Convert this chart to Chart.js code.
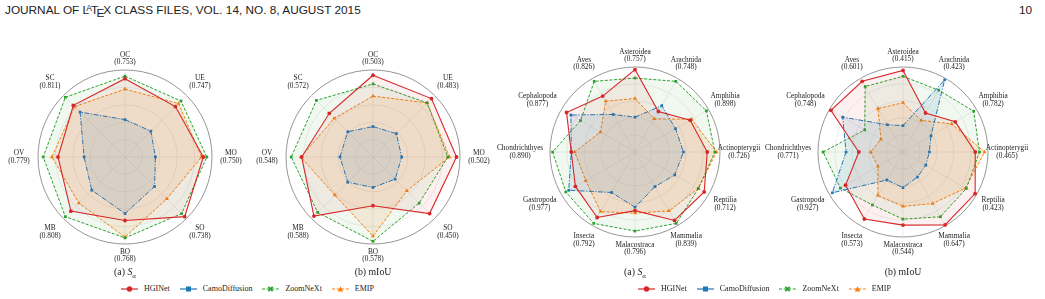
<!doctype html>
<html>
<head>
<meta charset="utf-8">
<title>radar comparison</title>
<script src="https://cdn.jsdelivr.net/npm/chart.js@4.4.0/dist/chart.umd.min.js"></script>
<style>
  body { margin: 0; width: 1045px; height: 299px; background: #fff; position: relative; overflow: hidden;
         font-family: "Liberation Serif", "Times New Roman", serif; color: #222; }
  .hdr { position: absolute; top: 3px; font-family: "Liberation Sans", Arial, sans-serif; font-size: 11.8px; color: #222; white-space: nowrap; }
  .hdr .a { font-size: 0.72em; vertical-align: 0.3em; margin-left: -0.33em; margin-right: -0.12em; }
  .hdr .e { position: relative; top: 0.22em; margin-left: -0.14em; margin-right: -0.1em; }
  canvas { position: absolute; }
  .cap { position: absolute; top: 266px; width: 160px; text-align: center; font-size: 9.8px; }
  .legend { position: absolute; top: 284px; display: flex; align-items: center; font-size: 8px; white-space: nowrap; }
  .legend .item { display: flex; align-items: center; margin-right: 10px; }
  .legend svg { margin-right: 6px; }
</style>
</head>
<body>
<div class="hdr" style="left:5px">JOURNAL OF L<span class="a">A</span>T<span class="e">E</span>X CLASS FILES, VOL. 14, NO. 8, AUGUST 2015</div>
<div class="hdr" style="left:1019px">10</div>

<canvas id="c1"></canvas>
<canvas id="c2"></canvas>
<canvas id="c3"></canvas>
<canvas id="c4"></canvas>

<div class="cap" style="left:45px">(a) <i>S</i><sub style="font-size:0.7em">&alpha;</sub></div>
<div class="cap" style="left:293px">(b) mIoU</div>
<div class="cap" style="left:555px">(a) <i>S</i><sub style="font-size:0.7em">&alpha;</sub></div>
<div class="cap" style="left:823px">(b) mIoU</div>

<div class="legend" id="leg1" style="left:121px"></div>
<div class="legend" id="leg2" style="left:638px"></div>

<script>
// attribute axes (left pair)
var attrAxes = ['OC', 'UE', 'MO', 'SO', 'BO', 'MB', 'OV', 'SC'];
var attrSalpha = [0.753, 0.747, 0.750, 0.738, 0.768, 0.808, 0.779, 0.811];
var attrMiou = [0.503, 0.483, 0.502, 0.450, 0.578, 0.588, 0.548, 0.572];

// class axes (right pair)
var classAxes = ['Asteroidea', 'Arachnida', 'Amphibia', 'Actinopterygii', 'Reptilia', 'Mammalia',
                 'Malacostraca', 'Insecta', 'Gastropoda', 'Chondrichthyes', 'Cephalopoda', 'Aves'];
var classSalpha = [0.757, 0.748, 0.898, 0.726, 0.712, 0.839, 0.796, 0.792, 0.977, 0.890, 0.877, 0.826];
var classMiou = [0.415, 0.423, 0.782, 0.465, 0.423, 0.647, 0.544, 0.573, 0.927, 0.771, 0.748, 0.601];

// plotted radii (normalised per axis)
var hginetAttrSa = [0.90, 0.82, 0.90, 0.97, 0.73, 0.88, 0.77, 0.84];
var camoAttrSa   = [0.43, 0.42, 0.35, 0.48, 0.65, 0.54, 0.47, 0.73];
var zoomAttrSa   = [0.93, 0.91, 0.94, 0.92, 0.93, 0.97, 0.94, 0.97];
var emipAttrSa   = [0.78, 0.87, 0.88, 0.68, 0.92, 0.75, 0.84, 0.82];

var hginetAttrMiou = [0.94, 0.95, 0.96, 0.92, 0.56, 0.96, 0.82, 0.71];
var camoAttrMiou   = [0.35, 0.38, 0.33, 0.36, 0.35, 0.41, 0.38, 0.41];
var zoomAttrMiou   = [0.84, 0.88, 0.86, 0.75, 0.97, 0.90, 0.94, 0.92];
var emipAttrMiou   = [0.70, 0.88, 0.88, 0.55, 0.91, 0.62, 0.83, 0.63];

var hginetClassSa = [0.97, 0.55, 0.75, 0.85, 0.94, 0.93, 0.69, 0.89, 0.81, 0.75, 0.93, 0.76];
var camoClassSa   = [0.41, 0.63, 0.55, 0.57, 0.54, 0.47, 0.65, 0.55, 0.90, 0.75, 0.87, 0.51];
var zoomClassSa   = [0.87, 0.96, 0.97, 0.94, 0.86, 0.97, 0.93, 0.97, 0.94, 0.97, 0.74, 0.96];
var emipClassSa   = [0.63, 0.45, 0.77, 0.96, 0.86, 0.80, 0.72, 0.81, 0.67, 0.71, 0.47, 0.69];

var hginetClassMiou = [0.96, 0.53, 0.71, 0.85, 0.98, 0.99, 0.86, 0.91, 0.78, 0.52, 0.98, 0.96];
var camoClassMiou   = [0.31, 0.98, 0.38, 0.31, 0.31, 0.34, 0.42, 0.38, 0.96, 0.67, 0.82, 0.37];
var zoomClassMiou   = [0.89, 0.84, 0.96, 0.90, 0.86, 0.88, 0.79, 0.72, 0.85, 0.94, 0.52, 0.89];
var emipClassMiou   = [0.58, 0.43, 0.66, 0.96, 0.85, 0.70, 0.64, 0.59, 0.34, 0.38, 0.30, 0.59];

var methods = [
  { name: 'HGINet', color: '#d62728', fill: 'rgba(214,39,40,0.07)', dash: [], point: 'circle', width: 1.1 },
  { name: 'CamoDiffusion', color: '#1f77b4', fill: 'rgba(31,119,180,0.10)', dash: [5, 1.5, 1.2, 1.5], point: 'rect', width: 1 },
  { name: 'ZoomNeXt', color: '#2ca02c', fill: 'rgba(44,160,44,0.07)', dash: [3, 1.6], point: 'rect', width: 1 },
  { name: 'EMIP', color: '#ff7f0e', fill: 'rgba(255,127,14,0.12)', dash: [3, 1.6], point: 'triangle', width: 1 }
];

function axisLabels(axes, scores) {
  return {
    id: 'axisLabels',
    afterDraw: function(chart) {
      var s = chart.scales.r, ctx = chart.ctx;
      ctx.save();
      ctx.font = '7.3px "Liberation Serif"';
      ctx.fillStyle = '#222';
      ctx.textAlign = 'center';
      ctx.textBaseline = 'middle';
      axes.forEach(function(name, i) {
        var sn = Math.sin(s.getIndexAngle(i));
        var d = s.drawingArea + 11.5 + 7.5 * Math.min(1, 1.5 * Math.abs(sn));
        var p = s.getPointPosition(i, d);
        var val = '(' + scores[i].toFixed(3) + ')';
        var w = Math.max(ctx.measureText(name).width, ctx.measureText(val).width);
        var x = p.x;
        if (sn < -0.6) x -= 0.45 * Math.max(0, w - 22);
        ctx.fillText(name, x, p.y - 3.9);
        ctx.fillText(val, x, p.y + 3.9);
      });
      ctx.restore();
    }
  };
}

function radar(id, cx, cy, R, half, axes, scores, series) {
  var cv = document.getElementById(id);
  cv.width = half * 2;
  cv.height = half * 2;
  cv.style.left = (cx - half) + 'px';
  cv.style.top = (cy - half) + 'px';
  new Chart(cv, {
    type: 'radar',
    data: {
      labels: axes,
      datasets: methods.map(function(m, k) {
        return {
          label: m.name,
          data: series[k],
          borderColor: m.color,
          backgroundColor: m.fill,
          borderWidth: m.width,
          borderDash: m.dash,
          fill: true,
          pointStyle: m.point,
          pointRadius: m.point === 'triangle' ? 2.3 : 1.9,
          pointBackgroundColor: m.color,
          pointBorderColor: m.color,
          pointBorderWidth: 0,
          clip: false
        };
      })
    },
    options: {
      responsive: false,
      animation: false,
      events: [],
      layout: { padding: half - R },
      plugins: { legend: { display: false }, tooltip: { enabled: false } },
      scales: {
        r: {
          min: 0,
          max: 1,
          ticks: { display: false, stepSize: 0.2 },
          pointLabels: { display: false },
          grid: {
            circular: true,
            color: function(c) { return c.tick && c.tick.value > 0.99 ? '#8a8a8a' : '#e0e0e0'; },
            lineWidth: function(c) { return c.tick && c.tick.value > 0.99 ? 0.9 : 0.6; }
          },
          angleLines: { color: '#e0e0e0', lineWidth: 0.6 }
        }
      }
    },
    plugins: [axisLabels(axes, scores)]
  });
}

radar('c1', 125, 157, 87, 122, attrAxes, attrSalpha, [hginetAttrSa, camoAttrSa, zoomAttrSa, emipAttrSa]);
radar('c2', 373, 157, 87, 122, attrAxes, attrMiou, [hginetAttrMiou, camoAttrMiou, zoomAttrMiou, emipAttrMiou]);
radar('c3', 635, 152, 85, 140, classAxes, classSalpha, [hginetClassSa, camoClassSa, zoomClassSa, emipClassSa]);
radar('c4', 903, 152, 85, 140, classAxes, classMiou, [hginetClassMiou, camoClassMiou, zoomClassMiou, emipClassMiou]);

// legends
function marker(m) {
  var c = m.color, mk;
  if (m.point === 'circle') mk = '<circle cx="8.5" cy="4" r="2.7" fill="' + c + '"/>';
  else if (m.name === 'ZoomNeXt') mk = '<path d="M6.3 1.8 L10.7 6.2 M10.7 1.8 L6.3 6.2" stroke="' + c + '" stroke-width="1.8"/>';
  else if (m.point === 'rect') mk = '<rect x="6" y="1.5" width="5" height="5" fill="' + c + '"/>';
  else mk = '<path d="M8.5 1.2 L11.3 6.4 L5.7 6.4 Z" fill="' + c + '"/>';
  var dash = m.name === 'HGINet' || m.name === 'CamoDiffusion' ? '' : ' stroke-dasharray="3,1.6"';
  return '<svg width="17" height="8"><line x1="0" y1="4" x2="17" y2="4" stroke="' + c + '" stroke-width="1.2"' + dash + '/>' + mk + '</svg>';
}
['leg1', 'leg2'].forEach(function(id) {
  document.getElementById(id).innerHTML = methods.map(function(m) {
    return '<span class="item">' + marker(m) + m.name + '</span>';
  }).join('');
});
</script>
</body>
</html>
